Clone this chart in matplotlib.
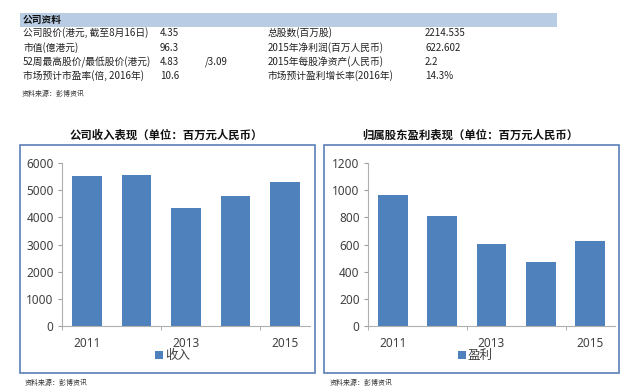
import matplotlib
matplotlib.use("Agg")
import matplotlib.pyplot as plt
from matplotlib.patches import Rectangle

plt.rcParams['font.family'] = ['Noto Sans CJK SC', 'DejaVu Sans']

# ---- data ----
years = ['2011', '2012', '2013', '2014', '2015']
year_labels = ['2011', '', '2013', '', '2015']
revenue = [5520, 5550, 4330, 4770, 5290]
profit = [964, 809, 602, 474, 622.6]

table_title = '公司资料'
left_labels = ['公司股价(港元, 截至8月16日)', '市值(億港元)', '52周最高股价/最低股价(港元)', '市场预计市盈率(倍, 2016年)']
left_values = ['4.35', '96.3', '4.83', '10.6']
left_extra = ['', '', '/3.09', '']
right_labels = ['总股数(百万股)', '2015年净利润(百万人民币)', '2015年每股净资产(人民币)', '市场预计盈利增长率(2016年)']
right_values = ['2214.535', '622.602', '2.2', '14.3%']

source = '资料来源：彭博资讯'
title_rev = '公司收入表现（单位：百万元人民币）'
title_pro = '归属股东盈利表现（单位：百万元人民币）'
legend_rev = '收入'
legend_pro = '盈利'

W, H = 640, 390
fig = plt.figure(figsize=(W / 100, H / 100), dpi=100)
fig.patch.set_facecolor('white')


def fx(x):
    return x / W


def fy(y):
    return 1 - y / H


def text(x, y, s, **kw):
    fig.text(fx(x), fy(y), s, **kw)


BAR = '#4f81bd'
BORDER = '#5a7fb8'
TXT = '#404040'

# ---- top table ----
fig.add_artist(Rectangle((fx(20), fy(27)), fx(557) - fx(20), fy(13) - fy(27),
                         transform=fig.transFigure, facecolor='#b8cce4', edgecolor='none',
                         zorder=-1))
text(23, 20, table_title, fontsize=7, fontweight='bold', va='center', color='#111111')
row_y = [33, 48, 62, 76]
for i, yy in enumerate(row_y):
    text(23, yy, left_labels[i], fontsize=7, va='center', color='#222222')
    text(160, yy, left_values[i], fontsize=7, va='center', color='#222222')
    if left_extra[i]:
        text(205, yy, left_extra[i], fontsize=7, va='center', color='#222222')
    text(268, yy, right_labels[i], fontsize=7, va='center', color='#222222')
    text(425, yy, right_values[i], fontsize=7, va='center', color='#222222')
text(22, 94, source, fontsize=5, va='center', style='italic', color='#333333')

# ---- chart boxes ----
for (x0, x1) in [(20, 315), (324, 619)]:
    fig.add_artist(Rectangle((fx(x0), fy(373)), fx(x1) - fx(x0), fy(145) - fy(373),
                             transform=fig.transFigure, facecolor='white',
                             edgecolor=BORDER, linewidth=1.2, zorder=-1))


def bar_chart(x0, x1, values, ymax, step, title, tcx, leg, legx):
    ax = fig.add_axes([fx(x0), fy(326), fx(x1) - fx(x0), fy(163) - fy(326)])
    ax.set_zorder(2)
    ax.set_facecolor('none')
    xs = list(range(len(years)))
    ax.bar(xs, values, width=0.6, color=BAR, zorder=2)
    ax.set_xlim(-0.5, len(years) - 0.5)
    ax.set_ylim(0, ymax)
    ax.set_yticks(list(range(0, ymax + 1, step)))
    ax.set_xticks(xs)
    ax.set_xticklabels(year_labels)
    ax.set_xticks([-0.5, 1.5, 3.5], minor=True)
    ax.tick_params(axis='x', which='major', length=0, pad=8, labelsize=8.5, labelcolor=TXT)
    ax.tick_params(axis='x', which='minor', length=3, direction='out', color='#a0a0a0')
    ax.tick_params(axis='y', length=3, direction='out', color='#a0a0a0', labelsize=8.5,
                   labelcolor=TXT, pad=3)
    for lab in ax.get_xticklabels() + ax.get_yticklabels():
        lab.set_fontfamily(['Noto Sans', 'DejaVu Sans'])
    for s in ['top', 'right']:
        ax.spines[s].set_visible(False)
    ax.spines['left'].set_color('#b0b0b0')
    ax.spines['bottom'].set_color('#b0b0b0')
    text(tcx, 135, title, fontsize=8.2, fontweight='bold', ha='center', va='center', color='#111111')
    fig.add_artist(Rectangle((fx(legx), fy(359)), fx(8) - fx(0), fy(351) - fy(359),
                             transform=fig.transFigure, facecolor=BAR, edgecolor='none'))
    text(legx + 10, 355, leg, fontsize=9, va='center', color=TXT)
    return ax


bar_chart(62, 310, revenue, 6000, 1000, title_rev, 166, legend_rev, 155)
bar_chart(368, 615, profit, 1200, 200, title_pro, 470, legend_pro, 458)

text(25, 383, source, fontsize=5, va='center', style='italic', color='#333333')
text(330, 383, source, fontsize=5, va='center', style='italic', color='#333333')

fig.savefig('out.png', dpi=100)
